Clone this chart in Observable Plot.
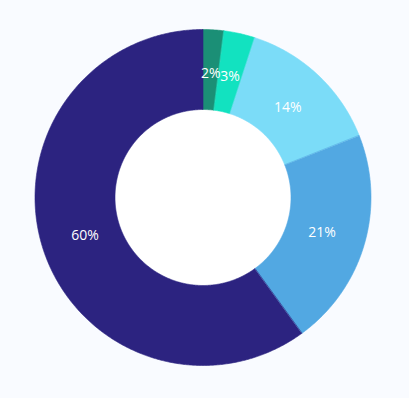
<!DOCTYPE html>
<html>
<head>
<meta charset="utf-8">
<script src="https://cdn.jsdelivr.net/npm/d3@7"></script>
<script src="https://cdn.jsdelivr.net/npm/@observablehq/plot@0.6"></script>
<style>
  html, body { margin: 0; padding: 0; background: #f9fbff; }
  #chart svg { display: block; background: transparent; }
</style>
</head>
<body>
<div id="chart"></div>
<script>
const categories = ["A", "B", "C", "D", "E"];
const values = [2, 3, 14, 21, 60];
const valueLabels = ["2%", "3%", "14%", "21%", "60%"];
const colors = ["#1b8f76", "#12e2c0", "#7bdcf8", "#52a8e2", "#2c2380"];

const W = 409, H = 398;
const cx = 202.5, cy = 197;
const outerR = 168, innerR = 88, labelR = 124;

const pie = d3.pie().sort(null).value(d => d.value);
const slices = pie(categories.map((c, i) => ({cat: c, value: values[i], label: valueLabels[i]})));

const pts = [];
for (const s of slices) {
  const n = Math.max(4, Math.ceil((s.endAngle - s.startAngle) / (Math.PI / 360)));
  for (let k = 0; k <= n; k++) {
    const a = s.startAngle + (s.endAngle - s.startAngle) * k / n;
    pts.push({cat: s.data.cat, x: outerR * Math.sin(a), y: -outerR * Math.cos(a)});
  }
  for (let k = n; k >= 0; k--) {
    const a = s.startAngle + (s.endAngle - s.startAngle) * k / n;
    pts.push({cat: s.data.cat, x: innerR * Math.sin(a), y: -innerR * Math.cos(a)});
  }
}
const hole = [];
for (let k = 0; k <= 720; k++) {
  const a = 2 * Math.PI * k / 720;
  hole.push({x: (innerR - 0.5) * Math.sin(a), y: -(innerR - 0.5) * Math.cos(a)});
}
const labels = slices.map(s => {
  const a = (s.startAngle + s.endAngle) / 2;
  return {label: s.data.label, x: labelR * Math.sin(a), y: -labelR * Math.cos(a)};
});

const chart = Plot.plot({
  width: W, height: H,
  margin: 0,
  x: {domain: [-cx, W - cx], axis: null},
  y: {domain: [H - cy, -cy], axis: null},
  color: {domain: categories, range: colors},
  style: {background: "transparent", fontFamily: "'Open Sans', sans-serif"},
  marks: [
    Plot.line(hole, {x: "x", y: "y", fill: "#ffffff", stroke: "none", curve: "linear-closed"}),
    Plot.line(pts, {x: "x", y: "y", z: "cat", fill: "cat", stroke: "cat", strokeWidth: 0.6, curve: "linear-closed"}),
    Plot.text(labels, {x: "x", y: "y", text: "label", fill: "white", fontSize: 14, fontWeight: 500})
  ]
});
document.getElementById("chart").appendChild(chart);
</script>
</body>
</html>
